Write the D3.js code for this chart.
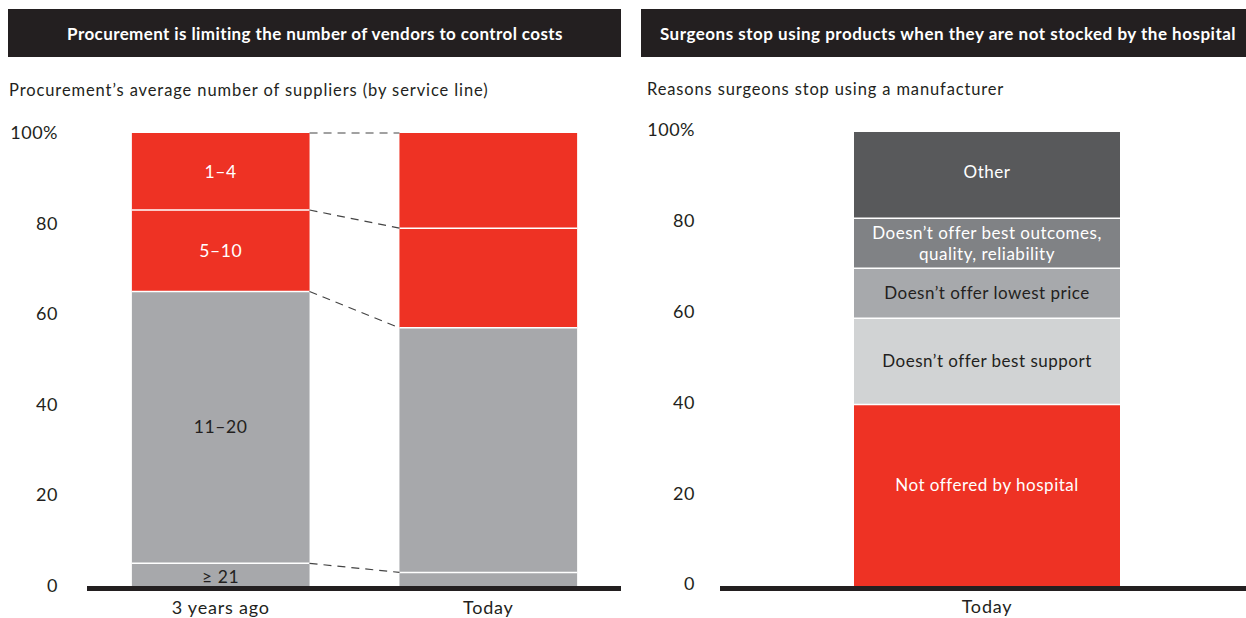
<!DOCTYPE html>
<html><head><meta charset="utf-8">
<script src="https://cdn.jsdelivr.net/npm/d3@7"></script>
<style>
body{margin:0;background:#fff;}
svg{display:block;font-family:"Lato","Open Sans",sans-serif;}
</style></head>
<body><svg id="c" width="1246" height="618"></svg>
<script>
// ---- data ----
const leftCategories = ["3 years ago", "Today"];
const leftSegments = ["≥ 21", "11–20", "5–10", "1–4"];
const leftValues3yrs = [5, 60, 18, 17];
const leftValuesToday = [3, 54, 22, 21];
const leftLabelsShown = [true, false];

const rightCategories = ["Today"];
const rightSegments = ["Not offered by hospital", "Doesn’t offer best support", "Doesn’t offer lowest price", "Doesn’t offer best outcomes,\nquality, reliability", "Other"];
const rightValues = [40, 19, 11, 11, 19];

const yTicks = [0, 20, 40, 60, 80, 100];
const titles = ["Procurement is limiting the number of vendors to control costs", "Surgeons stop using products when they are not stocked by the hospital"];
const subtitles = ["Procurement’s average number of suppliers (by service line)", "Reasons surgeons stop using a manufacturer"];

// ---- styles ----
const RED = "#EE3224", INK = "#231F20";
const leftColors = ["#A7A8AB", "#A7A8AB", RED, RED];
const leftTextColors = [INK, INK, "#fff", "#fff"];
const rightColors = [RED, "#D1D3D4", "#A7A9AC", "#808285", "#58595B"];
const rightTextColors = ["#fff", INK, INK, "#fff", "#fff"];
const rightLabelShift = [-10, 0, 0, 0, -3];
const FONT = "Lato, 'Open Sans', sans-serif";

const svg = d3.select("#c");

function header(x0, x1, text, ls, cx) {
  svg.append("rect").attr("x", x0).attr("y", 9).attr("width", x1 - x0).attr("height", 48).attr("fill", INK);
  svg.append("text").attr("x", cx).attr("y", 39.5).attr("text-anchor", "middle")
    .attr("fill", "#fff").attr("font-size", 17).attr("font-weight", 700)
    .attr("letter-spacing", ls).text(text);
}
header(8, 621, titles[0], 0.4, 315);
header(641, 1246, titles[1], 0.5, 948);

svg.append("text").attr("x", 9).attr("y", 96).attr("font-size", 16.5).attr("letter-spacing", 0.9).attr("fill", INK).text(subtitles[0]);
svg.append("text").attr("x", 647).attr("y", 95).attr("font-size", 16.5).attr("letter-spacing", 0.86).attr("fill", INK).text(subtitles[1]);

function yAxis(y, xRight, dy) {
  const g = svg.append("g").attr("transform", `translate(${xRight},0)`)
    .call(d3.axisLeft(y).tickValues(yTicks).tickSize(0).tickPadding(0)
      .tickFormat(d => d === 100 ? "100%" : d));
  g.select(".domain").remove();
  g.selectAll("text").attr("font-size", 18).attr("letter-spacing", 0.5).attr("fill", INK)
    .attr("font-family", FONT).attr("dy", dy);
}

function stack(values) {
  let c = 0;
  return values.map(v => { const s = c; c += v; return [s, c]; });
}

// ---- left chart ----
const xL = d3.scaleBand().domain(leftCategories).range([88, 621]).paddingInner(0.336).paddingOuter(0.164);
const yL = d3.scaleLinear().domain([0, 100]).range([586, 133]);
yAxis(yL, 58, "0.3em");

const leftData = [leftValues3yrs, leftValuesToday];
leftData.forEach((vals, ci) => {
  const st = stack(vals);
  const cat = leftCategories[ci];
  const g = svg.append("g");
  g.selectAll("rect").data(st).join("rect")
    .attr("x", xL(cat)).attr("width", xL.bandwidth())
    .attr("y", d => yL(d[1])).attr("height", d => yL(d[0]) - yL(d[1]))
    .attr("fill", (d, i) => leftColors[i]);
  g.selectAll("line").data(st.slice(1)).join("line")
    .attr("x1", xL(cat)).attr("x2", xL(cat) + xL.bandwidth())
    .attr("y1", d => yL(d[0])).attr("y2", d => yL(d[0]))
    .attr("stroke", "#fff").attr("stroke-width", 1.5);
  if (leftLabelsShown[ci]) {
    g.selectAll("text").data(st).join("text")
      .attr("x", xL(cat) + xL.bandwidth() / 2)
      .attr("y", (d, i) => i === 0 ? yL(d[0]) - 3 : yL((d[0] + d[1]) / 2) + 6)
      .attr("text-anchor", "middle").attr("font-size", 17.5).attr("letter-spacing", 0.6)
      .attr("fill", (d, i) => leftTextColors[i]).text((d, i) => leftSegments[i]);
  }
});
// dashed connectors
const s0 = stack(leftValues3yrs), s1 = stack(leftValuesToday);
svg.append("g").selectAll("line").data(s0.map((d, i) => [d[1], s1[i][1]])).join("line")
  .attr("x1", xL(leftCategories[0]) + xL.bandwidth()).attr("x2", xL(leftCategories[1]))
  .attr("y1", d => yL(d[0])).attr("y2", d => yL(d[1]))
  .attr("stroke", "#444").attr("stroke-width", 1.2).attr("stroke-dasharray", "8,6");

svg.append("line").attr("x1", 87).attr("x2", 621).attr("y1", 588.5).attr("y2", 588.5).attr("stroke", INK).attr("stroke-width", 5);
const axL = svg.append("g").attr("transform", "translate(0,596)")
  .call(d3.axisBottom(xL).tickSize(0).tickPadding(0));
axL.select(".domain").remove();
axL.selectAll("text").attr("font-size", 18).attr("letter-spacing", 0.8).attr("fill", INK)
  .attr("font-family", FONT).attr("dy", "1.0em");

// ---- right chart ----
const xR = d3.scaleBand().domain(rightCategories).range([721, 1253]).paddingInner(0).paddingOuter(0.5);
const yR = d3.scaleLinear().domain([0, 100]).range([586, 132]);
yAxis(yR, 695, "0.22em");

const stR = stack(rightValues);
const gR = svg.append("g");
gR.selectAll("rect").data(stR).join("rect")
  .attr("x", xR("Today")).attr("width", xR.bandwidth())
  .attr("y", d => yR(d[1])).attr("height", d => yR(d[0]) - yR(d[1]))
  .attr("fill", (d, i) => rightColors[i]);
gR.selectAll("line").data(stR.slice(1)).join("line")
  .attr("x1", xR("Today")).attr("x2", xR("Today") + xR.bandwidth())
  .attr("y1", d => yR(d[0])).attr("y2", d => yR(d[0]))
  .attr("stroke", "#fff").attr("stroke-width", 1.5);
gR.selectAll("text").data(stR).join("text")
  .attr("x", xR("Today") + xR.bandwidth() / 2)
  .attr("y", (d, i) => yR((d[0] + d[1]) / 2) + 6 + rightLabelShift[i])
  .attr("text-anchor", "middle").attr("font-size", 17).attr("letter-spacing", 0.5)
  .attr("fill", (d, i) => rightTextColors[i])
  .each(function (d, i) {
    const lines = rightSegments[i].split("\n");
    const t = d3.select(this);
    lines.forEach((ln, k) => {
      t.append("tspan").attr("x", xR("Today") + xR.bandwidth() / 2)
        .attr("dy", k === 0 ? (-(lines.length - 1) * 10.5) : 21).text(ln);
    });
  });

svg.append("line").attr("x1", 720).attr("x2", 1246).attr("y1", 588.5).attr("y2", 588.5).attr("stroke", INK).attr("stroke-width", 5);
const axR = svg.append("g").attr("transform", "translate(0,596)")
  .call(d3.axisBottom(xR).tickSize(0).tickPadding(0));
axR.select(".domain").remove();
axR.selectAll("text").attr("font-size", 18).attr("letter-spacing", 0.8).attr("fill", INK)
  .attr("font-family", FONT).attr("dy", "0.95em");
</script></body></html>
